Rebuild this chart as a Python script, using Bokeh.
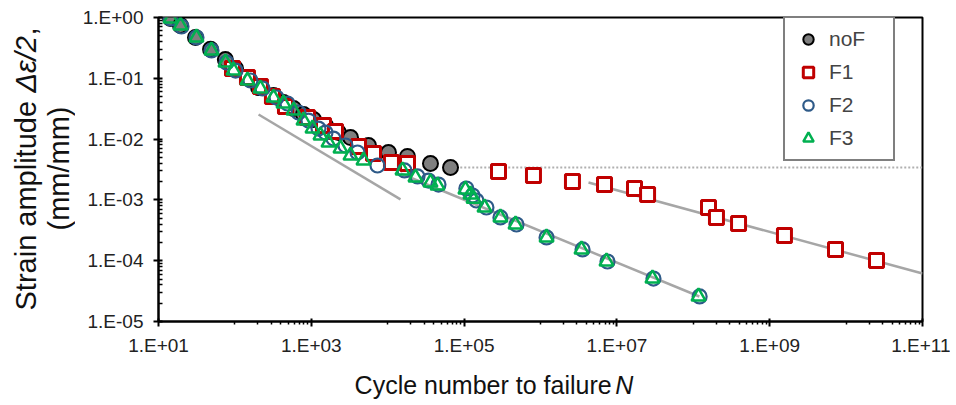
import math
from bokeh.plotting import figure
from bokeh.layouts import row, column
from bokeh.models import FixedTicker, CustomJSTickFormatter, Legend, LegendItem
from bokeh.core.properties import value
from bokeh.embed import file_html
from bokeh.resources import INLINE

# ---------------- data ----------------
noF_N = [14.4, 19.4, 30.5, 48, 75, 102, 151, 204, 320, 433, 585, 791, 1070, 1535, 2270,
         3260, 5610, 10240, 18150, 36300, 66400]
noF_e = [0.96, 0.74, 0.47, 0.30, 0.204, 0.145, 0.099, 0.0706, 0.0521, 0.040, 0.0319, 0.0254,
         0.0210, 0.0167, 0.0128, 0.0106, 0.00785, 0.00602, 0.00518, 0.00397, 0.00341]

F1_N = [93, 146, 216, 310, 459, 891, 1445, 2075, 4150, 6520, 11200, 18150, 2.82e5, 8.09e5,
        2.62e6, 6.88e6, 1.70e7, 2.52e7, 1.58e8, 2.01e8, 3.91e8, 1.56e9, 7.27e9, 2.50e10]
F1_e = [0.145, 0.103, 0.0733, 0.0502, 0.0344, 0.0227, 0.0167, 0.0133, 0.00755, 0.00579,
        0.00412, 0.00397, 0.00293, 0.00252, 0.00201, 0.00179, 0.00154, 0.00123, 0.00075,
        0.000514, 0.000409, 0.000260, 0.000153, 0.000101]

F2_N = [14.4, 20.0, 31.4, 49.4, 77.6, 102, 160, 230, 351, 488, 680, 919, 1242, 1535, 1954,
        2805, 4027, 7350, 16600, 24550, 34200, 46200, 107000, 129000, 145000, 196000,
        299000, 485000, 1.20e6, 3.55e6, 7.53e6, 3.01e7, 1.21e8]
F2_e = [0.963, 0.711, 0.469, 0.287, 0.182, 0.134, 0.0920, 0.0679, 0.0483, 0.0385, 0.0274,
        0.0202, 0.0149, 0.0128, 0.0102, 0.00785, 0.00602, 0.00368, 0.00305, 0.00243, 0.00208,
        0.00179, 0.00154, 0.00118, 0.000977, 0.000750, 0.000514, 0.000394, 0.000241,
        0.000153, 0.0000970, 0.0000509, 0.0000258]

F3_N = [14.4, 19.4, 31.4, 49.4, 75.3, 95.9, 146, 216, 320, 433, 585, 791, 1037, 1320, 1680,
        2410, 3260, 4822, 15630, 23100, 36300, 44900, 104000, 121000, 133000, 185000,
        299000, 471000, 1.20e6, 3.44e6, 7.31e6, 2.92e7, 1.17e8]
F3_e = [0.963, 0.738, 0.469, 0.287, 0.182, 0.134, 0.0920, 0.0679, 0.0483, 0.0385, 0.0295,
        0.0202, 0.0149, 0.0115, 0.00879, 0.00700, 0.00537, 0.00445, 0.00305, 0.00234,
        0.00193, 0.00173, 0.00148, 0.00123, 0.00105, 0.000750, 0.000514, 0.000394,
        0.000241, 0.000153, 0.0000970, 0.0000509, 0.0000258]

# trend lines
fitA_N = [204, 14700]
fitA_e = [0.0254, 0.00102]
fitB_N = [14700, 1.2e8]
fitB_e = [0.00272, 0.0000258]
fitC_N = [4.25e6, 1e11]
fitC_e = [0.00193, 0.0000615]
limit_N = [55000, 1e11]
limit_e = [0.00341, 0.00341]

x_major = [1e1, 1e3, 1e5, 1e7, 1e9, 1e11]
y_major = [1e-5, 1e-4, 1e-3, 1e-2, 1e-1, 1e0]

series_labels = ["noF", "F1", "F2", "F3"]
x_title = ["Cycle number to failure", "N"]
y_title = ["Strain amplitude", "Δε/2", ",", "(mm/mm)"]

# ---------------- layout geometry ----------------
FONT = "Liberation Sans"
W, H = 950, 400
LW = 75            # width of the y-title strip
PH = 365           # height of the main plot
XH = H - PH        # height of the x-title strip

p = figure(width=W - LW, height=PH, x_axis_type="log", y_axis_type="log",
           x_range=(1e1, 1e11), y_range=(1e-5, 1e0),
           output_backend="svg", toolbar_location=None,
           min_border_left=158 - LW, min_border_right=W - 922, min_border_top=17,
           min_border_bottom=PH - 321)
p.xgrid.visible = False
p.ygrid.visible = False
p.outline_line_color = "black"
p.outline_line_width = 2
p.background_fill_color = "white"

x_minor = [m * t for t in x_major[:-1] for m in [10, 20, 30, 40, 50, 60, 70, 80, 90]]
y_minor = [m * t for t in y_major[:-1] for m in range(2, 10)]
p.xaxis.ticker = FixedTicker(ticks=x_major, minor_ticks=x_minor)
p.yaxis.ticker = FixedTicker(ticks=y_major, minor_ticks=y_minor)
fmt = CustomJSTickFormatter(code="""
const e = Math.round(Math.log10(tick));
const a = Math.abs(e);
return '1.E' + (e < 0 ? '-' : '+') + (a < 10 ? '0' : '') + a;
""")
for ax in (p.xaxis, p.yaxis):
    ax.formatter = fmt
    ax.axis_line_color = "black"
    ax.axis_line_width = 2
    ax.major_tick_line_color = "black"
    ax.major_tick_line_width = 2
    ax.minor_tick_line_color = "black"
    ax.minor_tick_line_width = 1.5
    ax.major_label_text_font = FONT
    ax.major_label_text_font_size = "19px"
    ax.major_label_text_color = "#222222"
p.xaxis.major_tick_out = 5
p.xaxis.major_tick_in = 3
p.xaxis.minor_tick_out = 3
p.xaxis.minor_tick_in = 0
p.xaxis.major_label_standoff = 8
p.yaxis.major_tick_out = 5
p.yaxis.major_tick_in = 4
p.yaxis.minor_tick_out = 0
p.yaxis.minor_tick_in = 4
p.yaxis.major_label_standoff = 10

GRAY_LINE = "#A6A6A6"
p.line(limit_N, limit_e, line_color="#B0B0B0", line_width=2, line_dash="2 2")
p.line(fitA_N, fitA_e, line_color=GRAY_LINE, line_width=2.5)
p.line(fitB_N, fitB_e, line_color=GRAY_LINE, line_width=2.5)
p.line(fitC_N, fitC_e, line_color=GRAY_LINE, line_width=2.5)

r0 = p.scatter(noF_N, noF_e, marker="circle", size=15, fill_color="#7F7F7F",
               line_color="black", line_width=2)
r1 = p.scatter(F1_N, F1_e, marker="square", size=14, fill_color="white",
               line_color="#C00000", line_width=3)
r2 = p.scatter(F2_N, F2_e, marker="circle", size=14, fill_color=None,
               line_color="#2E5A88", line_width=2.2)
r3 = p.scatter(F3_N, F3_e, marker="triangle", size=14, fill_color=None,
               line_color="#00B050", line_width=2.5)

legend = Legend(items=[LegendItem(label=lab, renderers=[r])
                       for lab, r in zip(series_labels, [r0, r1, r2, r3])],
                location=(625, 160), padding=8, spacing=7, label_height=26, glyph_height=26,
                glyph_width=30, label_standoff=6, label_width=56, margin=0,
                border_line_color="black", border_line_width=2,
                label_text_font=FONT, label_text_font_size="21px",
                background_fill_color="white", background_fill_alpha=1)
p.add_layout(legend)


def text_strip(w, h):
    f = figure(width=w, height=h, x_range=(0, w), y_range=(0, h),
               output_backend="svg", toolbar_location=None, min_border=0)
    f.axis.visible = False
    f.grid.visible = False
    f.outline_line_color = None
    return f


# y title strip (coordinates in px; y measured from the bottom of the page)
yfig = text_strip(LW, H)
ykw = dict(text_font=value(FONT), text_font_size="29px", text_color="#111111",
           text_baseline="middle", angle=math.pi / 2)
yfig.text(x=[25], y=[H - 310], text=[y_title[0]], text_align="left", **ykw)
yfig.text(x=[25], y=[H - 310 + 218], text=[y_title[1]], text_align="left",
          text_font_style="italic", **ykw)
yfig.text(x=[25], y=[H - 310 + 275], text=[y_title[2]], text_align="left", **ykw)
yfig.text(x=[58], y=[H - 168], text=[y_title[3]], text_align="center", **ykw)

# x title strip
xfig = text_strip(W - LW, XH)
xkw = dict(text_font=value(FONT), text_font_size="25px", text_color="#111111",
           text_baseline="middle")
xfig.text(x=[594 - LW], y=[H - 384], text=[x_title[0]], text_align="right", **xkw)
xfig.text(x=[598 - LW], y=[H - 384], text=[x_title[1]], text_align="left",
          text_font_style="italic", **xkw)

layout = row(yfig, column(p, xfig, spacing=0), spacing=0)

open("out.html", "w").write(file_html(layout, INLINE))
